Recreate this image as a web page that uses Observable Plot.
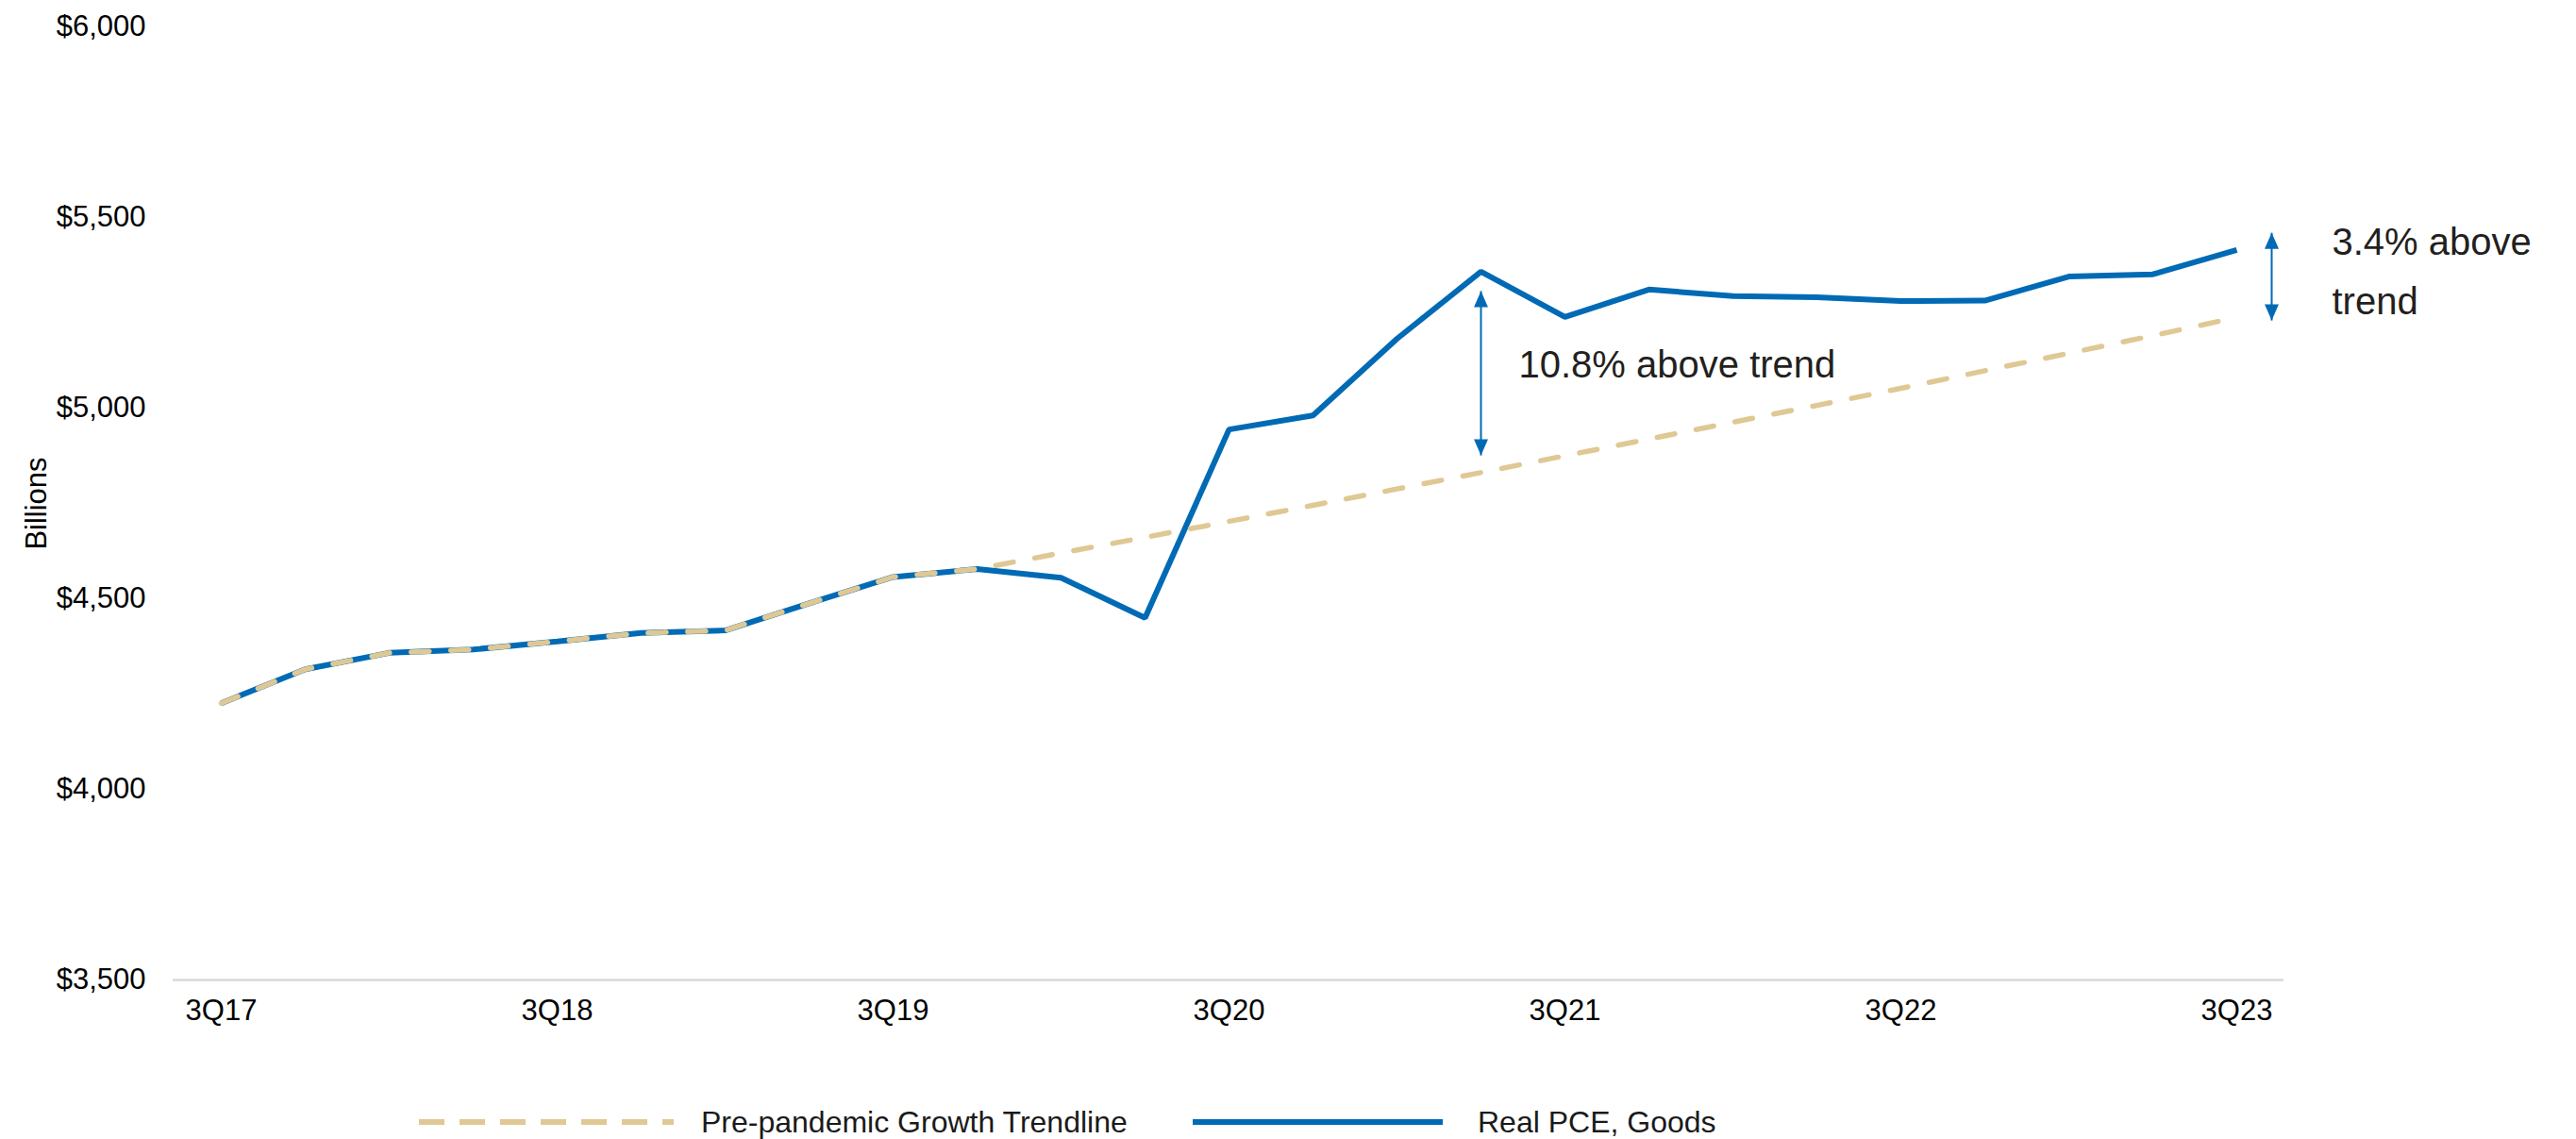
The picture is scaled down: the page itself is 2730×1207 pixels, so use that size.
<!DOCTYPE html>
<html>
<head>
<meta charset="utf-8">
<script src="https://cdn.jsdelivr.net/npm/d3@7"></script>
<script src="https://cdn.jsdelivr.net/npm/@observablehq/plot@0.6"></script>
<style>
  html, body { margin: 0; padding: 0; background: #fff; }
  body { width: 2730px; height: 1207px; overflow: hidden; font-family: "Liberation Sans", Arial, sans-serif; }
  #legend { position: relative; width: 2730px; height: 57px; }
  #legend .sw { position: absolute; top: 35px; }
  #legend .lab { position: absolute; top: 20px; font-size: 32px; line-height: 38px; color: #1a1a1a; white-space: nowrap; }
</style>
</head>
<body>
<div id="chart"></div>
<div id="legend">
  <svg class="sw" style="left:444px" width="270" height="8"><line x1="0" y1="4" x2="270" y2="4" stroke="#DFC894" stroke-width="6" stroke-dasharray="27,16"/></svg>
  <div class="lab" style="left:743px">Pre-pandemic Growth Trendline</div>
  <svg class="sw" style="left:1264px" width="265" height="8"><line x1="0" y1="4" x2="265" y2="4" stroke="#006AB5" stroke-width="6"/></svg>
  <div class="lab" style="left:1566px">Real PCE, Goods</div>
</div>
<script>
const quarters = ["3Q17","4Q17","1Q18","2Q18","3Q18","4Q18","1Q19","2Q19","3Q19","4Q19",
  "1Q20","2Q20","3Q20","4Q20","1Q21","2Q21","3Q21","4Q21","1Q22","2Q22","3Q22","4Q22",
  "1Q23","2Q23","3Q23"];
const realPCEGoods = [4226, 4315, 4358, 4367, 4388, 4410, 4417, 4488, 4557, 4578,
  4555, 4450, 4944, 4981, 5182, 5358, 5239, 5311, 5294, 5291, 5281, 5282,
  5345, 5351, 5415];
const trendline = [4226, 4315, 4358, 4367, 4388, 4410, 4417, 4488, 4557, 4578,
  4620, 4661, 4703, 4745, 4788, 4831, 4875, 4919, 4963, 5007, 5052, 5098,
  5144, 5190, 5238];
const xTickLabels = ["3Q17","3Q18","3Q19","3Q20","3Q21","3Q22","3Q23"];
const yTickValues = [3500, 4000, 4500, 5000, 5500, 6000];
const gapArrow1 = {q: "2Q21", lo: 4876, hi: 5307};
const gapArrow2 = {q: "3Q23", lo: 5230, hi: 5460};
const note1 = {q: "2Q21", v: 5111, text: "10.8% above trend"};
const note2 = {q: "3Q23", v: 5375, text: "3.4% above\ntrend"};

const blue = "#006AB5";
const tan = "#DFC894";

const pceRows = quarters.map((q, i) => ({q, v: realPCEGoods[i]}));
const trendRows = quarters.map((q, i) => ({q, v: trendline[i]}));

const headUp = {draw(ctx) { ctx.moveTo(0, 0); ctx.lineTo(7.5, 17); ctx.lineTo(-7.5, 17); ctx.closePath(); }};
const headDown = {draw(ctx) { ctx.moveTo(0, 0); ctx.lineTo(7.5, -17); ctx.lineTo(-7.5, -17); ctx.closePath(); }};

function arrowMarks(a, dx) {
  return [
    Plot.link([a], {x1: "q", x2: "q", y1: "lo", y2: "hi", stroke: blue, strokeWidth: 2, dx}),
    Plot.dot([a], {x: "q", y: "hi", symbol: headUp, fill: blue, stroke: "none", dx}),
    Plot.dot([a], {x: "q", y: "lo", symbol: headDown, fill: blue, stroke: "none", dx})
  ];
}

const chart = Plot.plot({
  width: 2730,
  height: 1150,
  marginLeft: 183,
  marginRight: 310,
  marginTop: 28,
  marginBottom: 112,
  style: {fontFamily: "'Liberation Sans', Arial, sans-serif", color: "#000", background: "#fff"},
  x: {type: "point", domain: quarters, padding: 0.5, label: null},
  y: {domain: [3500, 6000], label: null},
  marks: [
    Plot.ruleY([3500], {stroke: "#d9d9d9", strokeWidth: 2.5}),
    Plot.axisY(yTickValues, {tickSize: 0, tickPadding: 29, fontSize: 31, label: null,
      tickFormat: d => "$" + d3.format(",")(d)}),
    Plot.axisX(xTickLabels, {tickSize: 0, tickPadding: 20, fontSize: 31, label: null}),
    Plot.text(["Billions"], {frameAnchor: "left", textAnchor: "middle", dx: -144, dy: 0, rotate: -90, fontSize: 31, fill: "#000"}),
    Plot.line(pceRows, {x: "q", y: "v", stroke: blue, strokeWidth: 6, strokeLinejoin: "miter", strokeLinecap: "butt"}),
    Plot.line(trendRows, {x: "q", y: "v", stroke: tan, strokeWidth: 5.5, strokeDasharray: "19,23", strokeLinecap: "round"}),
    ...arrowMarks(gapArrow1, 0),
    ...arrowMarks(gapArrow2, 37),
    Plot.text([note1], {x: "q", y: "v", text: "text", dx: 40, textAnchor: "start", fontSize: 40, fill: "#231F20"}),
    Plot.text([note2], {x: "q", y: "v", text: "text", dx: 101, textAnchor: "start", fontSize: 40, lineHeight: 1.575, fill: "#231F20"})
  ]
});
document.getElementById("chart").appendChild(chart);
</script>
</body>
</html>
